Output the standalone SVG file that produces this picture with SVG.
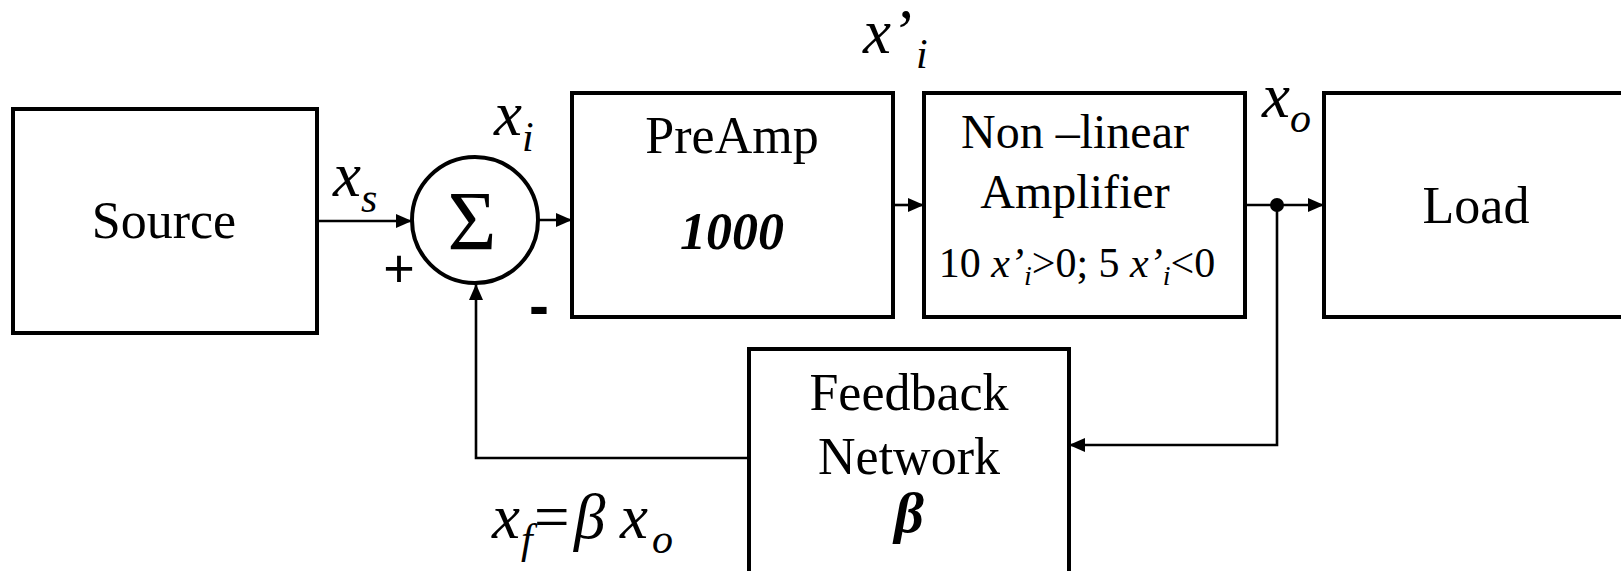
<svg xmlns="http://www.w3.org/2000/svg" width="1621" height="571" viewBox="0 0 1621 571">
<style>
.box{fill:#fff;stroke:#000;stroke-width:4}
.wire{fill:none;stroke:#000;stroke-width:2.6}
.t{font-family:"Liberation Serif","Times New Roman",serif;fill:#000}
.lbl{font-size:52px;text-anchor:middle}
.var{font-size:63px;font-style:italic}
.sub{font-size:42px;font-style:italic}
.sign{font-family:"Liberation Sans",Arial,sans-serif;text-anchor:middle;fill:#000}
</style>
<defs>
<marker id="arr" markerWidth="16" markerHeight="14" refX="16" refY="7" orient="auto" markerUnits="userSpaceOnUse">
<path d="M0,0 L16,7 L0,14 Z" fill="#000"/>
</marker>
</defs>
<rect width="1621" height="571" fill="#fff"/>
<g id="connectors">
<line class="wire" x1="317" y1="221" x2="412" y2="221" marker-end="url(#arr)"/>
<line class="wire" x1="538" y1="220" x2="572" y2="220" marker-end="url(#arr)"/>
<line class="wire" x1="893" y1="205" x2="924" y2="205" marker-end="url(#arr)"/>
<line class="wire" x1="1245" y1="205" x2="1324" y2="205" marker-end="url(#arr)"/>
<polyline class="wire" points="1277,205 1277,445 1069,445" marker-end="url(#arr)"/>
<polyline class="wire" points="749,458 476,458 476,284" marker-end="url(#arr)"/>
<circle cx="1277" cy="205" r="7" fill="#000"/>
</g>
<g id="source">
<rect class="box" x="13" y="109" width="304" height="224"/>
<text class="t lbl" x="164" y="238" font-size="54">Source</text>
</g>
<g id="sum">
<circle class="box" cx="475" cy="220" r="63"/>
<text class="t" x="472" y="250" font-size="84" text-anchor="middle">Σ</text>
</g>
<g id="preamp">
<rect class="box" x="572" y="93" width="321" height="224"/>
<text class="t lbl" x="732" y="153">PreAmp</text>
<text class="t lbl" x="732" y="249" font-weight="bold" font-style="italic">1000</text>
</g>
<g id="nonlinear">
<rect class="box" x="924" y="93" width="321" height="224"/>
<text class="t" x="1075" y="148" font-size="48" text-anchor="middle">Non –linear</text>
<text class="t" x="1075" y="208" font-size="48" text-anchor="middle">Amplifier</text>
<text class="t" x="1077" y="277" font-size="42" text-anchor="middle">10 <tspan font-style="italic">x’</tspan><tspan font-style="italic" font-size="28" dy="8">i</tspan><tspan dy="-8">&gt;0; 5 </tspan><tspan font-style="italic">x’</tspan><tspan font-style="italic" font-size="28" dy="8">i</tspan><tspan dy="-8">&lt;0</tspan></text>
</g>
<g id="load">
<rect class="box" x="1324" y="93" width="330" height="224"/>
<text class="t lbl" x="1476" y="223">Load</text>
</g>
<g id="feedback">
<rect class="box" x="749" y="349" width="320" height="240"/>
<text class="t lbl" x="909" y="410">Feedback</text>
<text class="t lbl" x="909" y="474">Network</text>
<text class="t" x="909" y="532" font-size="58" text-anchor="middle" font-weight="bold" font-style="italic">β</text>
</g>
<g id="labels">
<text class="t" x="333" y="196"><tspan class="var">x</tspan><tspan class="sub" dy="16">s</tspan></text>
<text class="t" x="494" y="135"><tspan class="var">x</tspan><tspan class="sub" dy="16">i</tspan></text>
<text class="t" x="863" y="53"><tspan class="var">x’</tspan><tspan class="sub" dx="4" dy="15">i</tspan></text>
<text class="t" x="1262" y="117"><tspan class="var">x</tspan><tspan class="sub" dy="15">o</tspan></text>
<text class="t" y="538"><tspan class="var" x="492">x</tspan><tspan class="sub" x="521" dy="15">f</tspan><tspan font-size="63" x="534" dy="-15">=</tspan><tspan class="var" x="574">β</tspan><tspan class="var" x="620">x</tspan><tspan class="sub" x="652" dy="15">o</tspan></text>
<text class="sign" x="399" y="287" font-size="54">+</text>
<text class="sign" x="539" y="326" font-size="60" font-weight="bold">-</text>
</g>
</svg>
